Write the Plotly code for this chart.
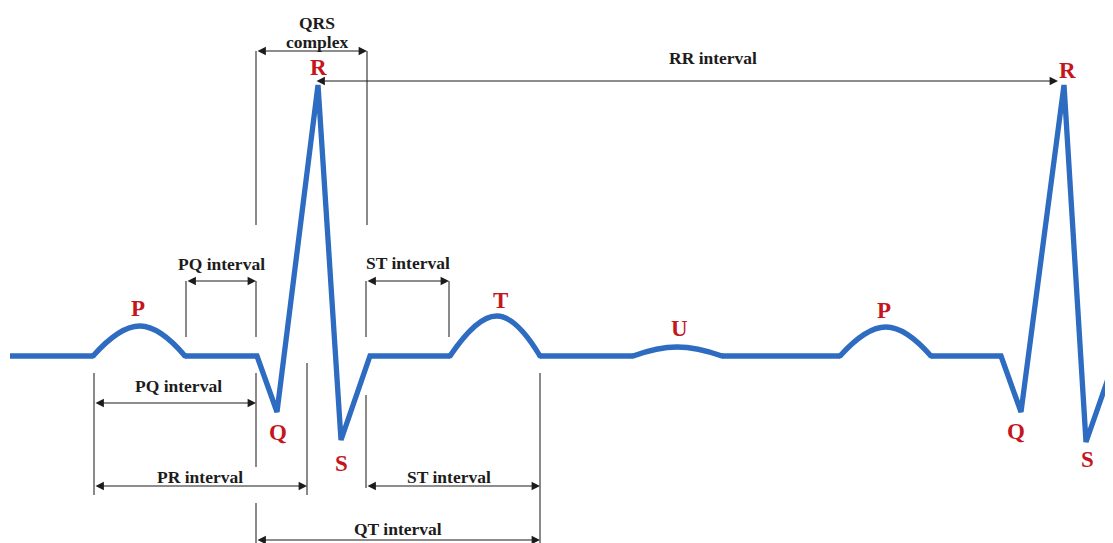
import plotly.graph_objects as go

# ---------------- ECG waveform key points (x: time-like px units, y: amplitude, baseline = 0)
ecg_x = [10, 93, 140, 185, 257, 277, 318, 341, 370,
         450, 497, 540, 633, 677, 722,
         840, 886, 931, 1001, 1021, 1064, 1086, 1116]
ecg_y = [0, 0, 30, 0, 0, -56, 271, -84, 0,
         0, 40, 0, 0, 9, 0,
         0, 29, 0, 0, -56, 271, -86, 0]
# index ranges (inclusive) of the rounded waves: P, T, U, P
wave_ranges = [(1, 3), (9, 11), (12, 14), (15, 17)]

# ---------------- wave letters
wave_names = ["P", "Q", "R", "S", "T", "U", "P", "Q", "R", "S"]
wave_lx = [138, 278, 318, 341, 500, 679, 884, 1016, 1067, 1087]
wave_ly = [48, -76, 289, -107, 56, 28, 46, -75, 286, -103]

# ---------------- interval arrows
int_x0 = [256, 186, 366, 94, 94, 366, 256, 315]
int_x1 = [367, 256, 449, 256, 307, 540, 540, 1058]
int_y = [305, 75, 75, -47, -130, -130, -184, 275]

# ---------------- interval texts
int_text = ["QRS", "complex", "PQ interval", "ST interval", "PQ interval",
            "PR interval", "ST interval", "QT interval", "RR interval"]
int_tx = [317, 317, 221, 408, 178, 200, 449, 398, 713]
int_ty = [333, 314, 92, 93, -30, -121, -121, -173, 298]

# ---------------- vertical guide lines
guide_x = [256, 367, 186, 256, 366, 449, 94, 256, 307, 366, 540, 256]
guide_y0 = [305, 305, 75, 75, 75, 75, -17, -17, -7, -39, -17, -147]
guide_y1 = [131, 131, 19, 19, 19, 19, -139, -111, -139, -132, -195, -195]

BLUE = "#2d6cc0"
RED = "#c4161c"
INK = "#1c1c1c"
SERIF = "Liberation Serif, Times New Roman, serif"

fig = go.Figure()

for gx, g0, g1 in zip(guide_x, guide_y0, guide_y1):
    fig.add_shape(type="line", x0=gx, x1=gx, y0=g0, y1=g1, xref="x", yref="y",
                  line=dict(color="#2a2a2a", width=1.1), layer="below")

wave_inner = set()
for a, b in wave_ranges:
    wave_inner.update(range(a + 1, b))
lin_x, lin_y = [], []
prev = None
for i in range(len(ecg_x)):
    if i in wave_inner:
        if prev is not None:
            lin_x.append(None); lin_y.append(None)
            prev = None
        continue
    lin_x.append(ecg_x[i]); lin_y.append(ecg_y[i]); prev = i
fig.add_trace(go.Scatter(x=lin_x, y=lin_y, mode="lines",
                         line=dict(color=BLUE, width=5.3), hoverinfo="skip"))
for a, b in wave_ranges:
    fig.add_trace(go.Scatter(x=ecg_x[a:b + 1], y=ecg_y[a:b + 1], mode="lines",
                             line=dict(color=BLUE, width=5.3, shape="spline", smoothing=1.3),
                             hoverinfo="skip"))
jx = [ecg_x[i] for r in wave_ranges for i in r]
jy = [ecg_y[i] for r in wave_ranges for i in r]
fig.add_trace(go.Scatter(x=jx, y=jy, mode="markers",
                         marker=dict(color=BLUE, size=5, line=dict(width=0)), hoverinfo="skip"))

annotations = []
for x0, x1, y in zip(int_x0, int_x1, int_y):
    annotations.append(dict(x=x1, y=y, ax=x0, ay=y, xref="x", yref="y", axref="x", ayref="y",
                            text="", showarrow=True, arrowside="end+start",
                            arrowhead=2, startarrowhead=2, arrowsize=1.4, startarrowsize=1.4,
                            arrowwidth=1.2, arrowcolor=INK, standoff=0, startstandoff=0))
for t, x, y in zip(int_text, int_tx, int_ty):
    annotations.append(dict(x=x, y=y, xref="x", yref="y", text="<b>" + t + "</b>",
                            showarrow=False, font=dict(family=SERIF, size=17.5, color=INK)))
for t, x, y in zip(wave_names, wave_lx, wave_ly):
    annotations.append(dict(x=x, y=y, xref="x", yref="y", text="<b>" + t + "</b>",
                            showarrow=False, font=dict(family=SERIF, size=23, color=RED)))

# the page body adds an 8px margin: size the figure to the remaining window area
fig.update_layout(
    width=1105, height=535, margin=dict(l=0, r=0, t=0, b=0),
    paper_bgcolor="white", plot_bgcolor="white", showlegend=False,
    xaxis=dict(range=[8, 1113], visible=False, fixedrange=True),
    yaxis=dict(range=[-187, 348], visible=False, fixedrange=True),
    annotations=annotations,
)
fig.write_html("out.html")
